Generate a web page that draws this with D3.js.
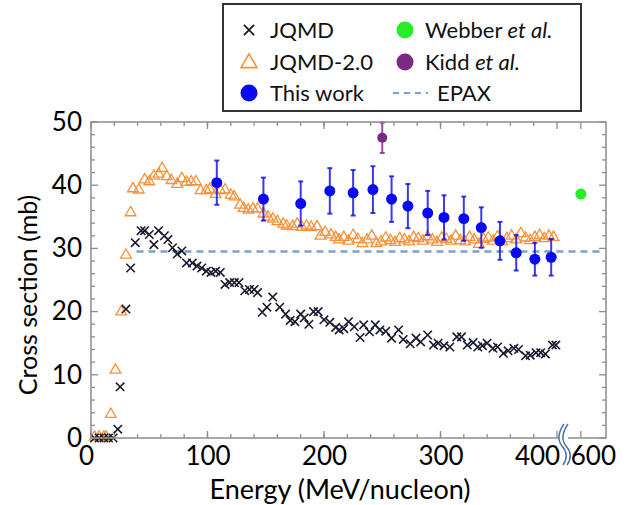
<!DOCTYPE html>
<html><head><meta charset="utf-8">
<script src="https://cdn.jsdelivr.net/npm/d3@7"></script>
<style>html,body{margin:0;padding:0;background:#fff}svg{display:block}text{font-family:Lato,"Open Sans",sans-serif}</style>
</head><body><svg id="c" width="640" height="505"></svg>
<script>
// ---- data ----
const jqmdE = [3,7,11,15,19,23,25,30,34,38,43,46,50,54,58,63,66,70,74,78,82,87,91,95,99,103,107,111,115,119,123,127,132,136,140,143,147,151,156,162,167,171,175,180,183,187,191,195,200,205,210,213,217,221,226,231,234,239,244,248,253,258,264,268,274,279,283,289,294,298,303,308,314,318,323,328,332,336,340,345,349,354,358,363,367,373,377,382,386,390,396,399];
const jqmdV = [0,0,0,0,0,1.4,8.1,20.4,26.9,30.9,32.8,32.8,32.2,30.6,32.8,32.0,31.4,30.1,29.1,29.6,27.7,27.7,27.2,26.9,26.4,26.2,26.4,26.2,24.3,24.6,24.6,24.6,23.3,23.5,23.5,23.0,19.9,20.7,22.3,20.7,19.6,18.6,18.4,19.6,19.0,18.0,20.0,20.0,18.7,18.3,17.5,17.1,17.3,18.4,17.6,15.9,17.9,16.8,17.9,17.1,16.9,15.8,17.1,15.6,14.9,15.8,15.2,16.3,14.7,15.0,14.6,14.4,16.0,16.0,14.7,15.1,14.4,14.6,15.0,14.2,14.4,13.4,13.8,14.2,14.0,13.0,13.1,13.5,13.5,13.3,14.7,14.7];
const jqmd2E = [3,7,11,13,17,21,26,30,34,36,41,46,50,54,58,61,65,69,74,78,82,86,90,94,99,102,107,111,115,120,123,128,131,135,139,143,148,152,156,160,165,168,173,177,181,185,189,194,197,201,206,210,213,217,221,225,229,233,237,241,245,249,253,257,261,265,269,273,277,281,285,289,293,297,301,305,309,313,317,321,325,329,333,337,341,345,349,353,357,361,365,369,373,377,381,385,389,393,397];
const jqmd2V = [0,0,0,0,3.6,10.6,19.8,28.8,35.5,39.3,39.1,40.7,40.4,41.3,41.6,42.5,41.2,40.6,40.0,40.9,40.3,40.4,40.4,39.0,39.0,39.2,38.4,39.0,39.1,38.3,38.0,36.7,36.2,35.9,36.1,36.1,35.3,34.8,34.5,34.1,33.7,33.4,33.3,33.7,33.2,33.4,33.2,33.3,31.8,32.4,32.0,31.6,31.2,31.6,31.0,31.9,31.3,30.6,31.2,31.8,30.6,30.9,31.5,31.1,30.8,31.4,31.2,30.9,31.6,31.4,31.0,31.7,31.2,30.8,31.5,31.3,31.0,31.8,31.1,30.9,31.6,31.2,30.5,31.3,31.5,31.0,31.7,30.9,31.4,31.8,31.2,32.2,31.5,31.1,31.6,31.9,31.4,31.8,31.6];
const workE = [108,148,180,205,225,242,258,272,289,303,320,335,351,365,381,395];
const workV = [40.4,37.8,37.1,39.1,38.8,39.3,37.8,36.7,35.6,34.9,34.7,33.3,31.2,29.3,28.3,28.6];
const workErr = [3.5,3.4,3.5,3.6,3.6,3.7,3.6,3.5,3.5,3.5,3.5,3.2,3.0,2.8,2.6,2.9];
const kiddE = [250], kiddV = [47.5], kiddErr = [2.4];
const webberE = [600], webberV = [38.6];
const epaxV = 29.5, epaxE = [39, 620];
const xMajorLow = [0,100,200,300,400], xMinorLow = d3.range(20,400,20), xHighTicks = [600];
const yMajor = [0,10,20,30,40,50], yMinor = d3.range(2,50,2);

// ---- layout ----
const svg = d3.select("#c");
const L=91, R=606, T=122, B=438;
const xLow = d3.scaleLinear().domain([0,400]).range([L,557]);
const xHigh = d3.scaleLinear().domain([580,622]).range([558,R]);
const X = e => e<=450 ? xLow(e) : xHigh(e);
const y = d3.scaleLinear().domain([0,50]).range([B,T]);

// EPAX
svg.append("line").attr("x1",X(epaxE[0])).attr("x2",X(epaxE[1])-3).attr("y1",y(epaxV)).attr("y2",y(epaxV))
  .attr("stroke","#7c9fcb").attr("stroke-width",2.5).attr("stroke-dasharray","7,5");

// JQMD-2.0 triangles
const tri = d3.symbol().type(d3.symbolTriangle).size(50);
svg.append("g").selectAll("path").data(jqmd2E.map((e,i)=>[e,jqmd2V[i]])).join("path")
  .attr("d",tri).attr("transform",d=>`translate(${X(d[0])},${y(d[1])-1})`)
  .attr("fill","none").attr("stroke","#f7913a").attr("stroke-width",1.3);

// JQMD crosses
const cross = d3.symbol().type(d3.symbolX).size(48);
svg.append("g").selectAll("path").data(jqmdE.map((e,i)=>[e,jqmdV[i]])).join("path")
  .attr("d",cross).attr("transform",d=>`translate(${X(d[0])},${y(d[1])})`)
  .attr("fill","none").attr("stroke","#1b1b30").attr("stroke-width",1.6);

// error-bar helper
function errPts(g, E, V, Er, col, r, wcap){
  const d = E.map((e,i)=>({e, v:V[i], s:Er?Er[i]:0}));
  const gg = g.append("g");
  if (Er){
    gg.selectAll("line.v").data(d).join("line").attr("class","v")
      .attr("x1",p=>X(p.e)).attr("x2",p=>X(p.e)).attr("y1",p=>y(p.v+p.s)).attr("y2",p=>y(p.v-p.s))
      .attr("stroke",col).attr("stroke-width",2).attr("opacity",0.8);
    ["t","b"].forEach(k=>gg.selectAll("line."+k).data(d).join("line").attr("class",k)
      .attr("x1",p=>X(p.e)-wcap).attr("x2",p=>X(p.e)+wcap)
      .attr("y1",p=>y(k==="t"?p.v+p.s:p.v-p.s)).attr("y2",p=>y(k==="t"?p.v+p.s:p.v-p.s))
      .attr("stroke",col).attr("stroke-width",2).attr("opacity",0.8));
  }
  gg.selectAll("circle").data(d).join("circle").attr("cx",p=>X(p.e)).attr("cy",p=>y(p.v)).attr("r",r).attr("fill",col);
}
errPts(svg, workE, workV, workErr, "#0a0af0", 5.5, 2.5);
errPts(svg, kiddE, kiddV, kiddErr, "#7a2a85", 5, 2.5);
errPts(svg, webberE, webberV, null, "#27ec27", 5.5, 0);

// frame
svg.append("rect").attr("x",L).attr("y",T).attr("width",R-L).attr("height",B-T)
  .attr("fill","none").attr("stroke","#8c8c8c").attr("stroke-width",1.5);

// ticks (inside) on all four sides
const tg = svg.append("g").attr("stroke","#8c8c8c").attr("stroke-width",1.3);
const xt = xMinorLow.map(v=>({p:xLow(v),len:4})).concat(xMajorLow.map(v=>({p:xLow(v),len:7}))).concat(xHighTicks.map(v=>({p:xHigh(v),len:7})));
xt.forEach(t=>{ tg.append("line").attr("x1",t.p).attr("x2",t.p).attr("y1",B).attr("y2",B-t.len);
                tg.append("line").attr("x1",t.p).attr("x2",t.p).attr("y1",T).attr("y2",T+t.len); });
const yt = yMinor.filter(v=>v%10).map(v=>({p:y(v),len:4})).concat(yMajor.map(v=>({p:y(v),len:7})));
yt.forEach(t=>{ tg.append("line").attr("y1",t.p).attr("y2",t.p).attr("x1",L).attr("x2",L+t.len);
                tg.append("line").attr("y1",t.p).attr("y2",t.p).attr("x1",R).attr("x2",R-t.len); });

// tick labels via axes
const fs = "26px";
const axB = svg.append("g").attr("transform",`translate(0,${B})`)
  .call(d3.axisBottom(xLow).tickValues(xMajorLow).tickSize(0).tickPadding(9));
const axB2 = svg.append("g").attr("transform",`translate(0,${B})`)
  .call(d3.axisBottom(xHigh).tickValues(xHighTicks).tickSize(0).tickPadding(9));
[axB,axB2].forEach(a=>{a.select(".domain").remove(); a.selectAll("text").attr("font-size",fs).attr("fill","#000").style("font-family","Lato");});
axB.selectAll("text").attr("dx",d=>d===400?-20:(d===0?-5:0));
axB2.selectAll("text").attr("dx",12);
const axL = svg.append("g").attr("transform",`translate(${L},0)`)
  .call(d3.axisLeft(y).tickValues(yMajor).tickSize(0).tickPadding(9));
axL.select(".domain").remove();
axL.selectAll("text").attr("font-size",fs).attr("fill","#000").style("font-family","Lato");

// axis break symbol
svg.append("rect").attr("x",559).attr("y",B-3).attr("width",9).attr("height",6).attr("fill","#fff");
[0,4].forEach(dx=>svg.append("path")
  .attr("d",`M${564+dx},424 Q${555+dx},437 ${562+dx},446 Q${570+dx},455 ${563+dx},465`)
  .attr("fill","none").attr("stroke","#4f73a8").attr("stroke-width",1.5));

// axis titles
svg.append("text").attr("x",340).attr("y",499).attr("text-anchor","middle").attr("font-size","27px").attr("fill","#000").text("Energy (MeV/nucleon)");
svg.append("text").attr("transform","translate(37,295) rotate(-90)").attr("text-anchor","middle").attr("font-size","25px").attr("fill","#000").text("Cross section (mb)");

// legend
const lg = svg.append("g");
lg.append("rect").attr("x",223).attr("y",4).attr("width",358).attr("height",107).attr("fill","#fff").attr("stroke","#333").attr("stroke-width",2);
const rows=[30,62,93];
lg.append("path").attr("d",d3.symbol().type(d3.symbolX).size(70)).attr("transform",`translate(249,${rows[0]})`).attr("stroke","#111").attr("stroke-width",1.6).attr("fill","none");
lg.append("path").attr("d",d3.symbol().type(d3.symbolTriangle).size(110)).attr("transform",`translate(249,${rows[1]+1})`).attr("stroke","#f7913a").attr("stroke-width",1.6).attr("fill","none");
lg.append("circle").attr("cx",249).attr("cy",rows[2]).attr("r",8.5).attr("fill","#0a0af0");
lg.append("circle").attr("cx",405).attr("cy",rows[0]).attr("r",8.5).attr("fill","#27ec27");
lg.append("circle").attr("cx",405).attr("cy",rows[1]).attr("r",8.5).attr("fill","#7a2a85");
lg.append("line").attr("x1",393).attr("x2",428).attr("y1",rows[2]).attr("y2",rows[2]).attr("stroke","#7c9fcb").attr("stroke-width",2).attr("stroke-dasharray","6,5");
const lt = (x,yy,parts)=>{const t=lg.append("text").attr("x",x).attr("y",yy).attr("dy","0.35em").attr("font-size","22px").attr("fill","#111");
  parts.forEach(p=>t.append("tspan").attr("font-style",p[1]?"italic":"normal").text(p[0]));};
lt(270,rows[0],[["JQMD"]]);
lt(270,rows[1],[["JQMD-2.0"]]);
lt(270,rows[2],[["This work"]]);
lt(425,rows[0],[["Webber "],["et al.",1]]);
lt(425,rows[1],[["Kidd "],["et al.",1]]);
lt(437,rows[2],[["EPAX"]]);
</script></body></html>
